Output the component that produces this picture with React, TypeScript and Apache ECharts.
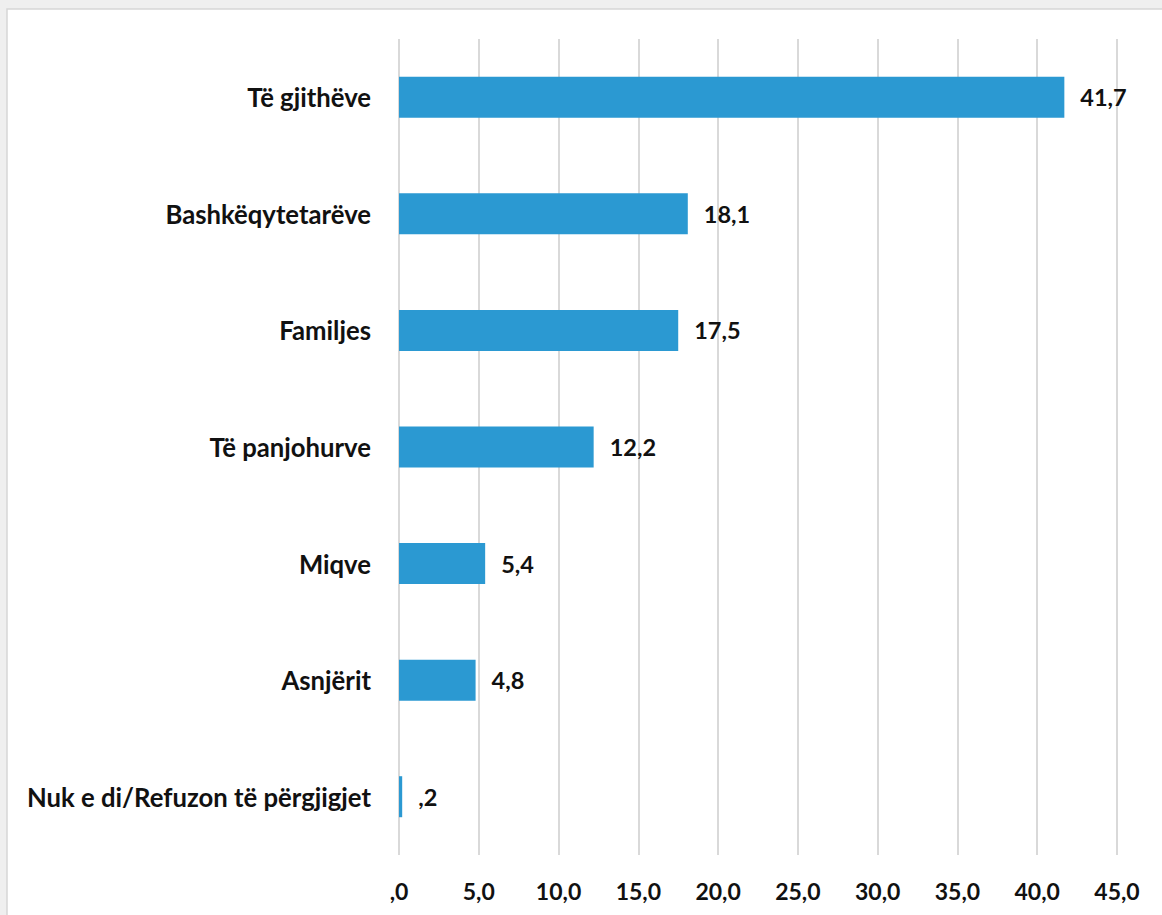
import React, { useEffect, useRef } from "react";
import * as echarts from "echarts";

const categories = [
  "Të gjithëve",
  "Bashkëqytetarëve",
  "Familjes",
  "Të panjohurve",
  "Miqve",
  "Asnjërit",
  "Nuk e di/Refuzon të përgjigjet",
];
const values = [41.7, 18.1, 17.5, 12.2, 5.4, 4.8, 0.2];
const axisMin = 0;
const axisMax = 45;
const axisStep = 5;

const fmt = (v: number) => {
  const s = v.toFixed(1).replace(".", ",");
  return s.startsWith("0,") ? s.slice(1) : s;
};

export default function App() {
  const ref = useRef<HTMLDivElement>(null);
  useEffect(() => {
    if (!ref.current) return;
    const chart = echarts.init(ref.current, undefined, { renderer: "svg" });
    chart.setOption({
      animation: false,
      backgroundColor: "#efefef",
      graphic: [
        {
          type: "rect",
          z: -10,
          silent: true,
          shape: { x: 7, y: 9, width: 1162, height: 915 },
          style: { fill: "#ffffff", stroke: "#d6d6d6", lineWidth: 1.5 },
        },
      ],
      grid: { left: 399, right: 45, top: 39, bottom: 60, containLabel: false },
      xAxis: {
        type: "value",
        min: axisMin,
        max: axisMax,
        interval: axisStep,
        axisLine: { show: false },
        axisTick: { show: false },
        splitLine: { show: true, lineStyle: { color: "#d9d9d9", width: 2 } },
        axisLabel: {
          margin: 24,
          formatter: (v: number) => fmt(v),
          color: "#111",
          fontFamily: "Lato",
          fontWeight: "bold",
          fontSize: 23,
        },
      },
      yAxis: {
        type: "category",
        data: categories,
        inverse: true,
        axisLine: { show: false },
        axisTick: { show: false },
        splitLine: { show: false },
        axisLabel: {
          margin: 28,
          color: "#111",
          fontFamily: "Lato",
          fontWeight: "bold",
          fontSize: 25.7,
        },
      },
      series: [
        {
          type: "bar",
          data: values,
          barWidth: 41,
          itemStyle: { color: "#2b99d2" },
          label: {
            show: true,
            position: "right",
            distance: 16,
            formatter: (p: any) => fmt(p.value),
            color: "#111",
            fontFamily: "Lato",
            fontWeight: "bold",
            fontSize: 23.5,
          },
        },
      ],
    });
    return () => chart.dispose();
  }, []);
  return (
    <div
      ref={ref}
      style={{ position: "fixed", left: 0, top: 0, width: 1162, height: 915 }}
    />
  );
}
